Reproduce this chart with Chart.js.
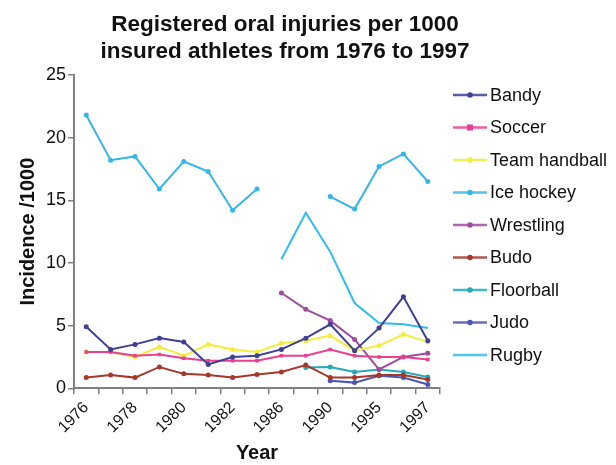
<!DOCTYPE html>
<html>
<head>
<meta charset="utf-8">
<script src="https://cdn.jsdelivr.net/npm/chart.js@4.4.0/dist/chart.umd.min.js"></script>
<style>
  html, body { margin: 0; padding: 0; background: #fff; }
  #wrap { width: 616px; height: 465px; position: relative; }
</style>
</head>
<body>
<div id="wrap"><canvas id="injuryChart"></canvas></div>
<script>
// categories (only every other one gets a label on the axis)
const years = ['1976', '1977', '1978', '1979', '1980', '1981', '1982', '1984',
               '1986', '1988', '1990', '1992', '1995', '1996', '1997'];
const yTicks = [0, 5, 10, 15, 20, 25];
const titleLines = ['Registered oral injuries per 1000', 'insured athletes from 1976 to 1997'];

const bandy        = [4.9, 3.1, 3.5, 4.0, 3.7, 1.9, 2.5, 2.6, 3.1, 4.0, 5.1, 3.0, 4.8, 7.3, 3.8];
const soccer       = [2.9, 2.9, 2.6, 2.7, 2.4, 2.2, 2.2, 2.2, 2.6, 2.6, 3.1, 2.6, 2.5, 2.5, 2.3];
const teamHandball = [2.9, 2.9, 2.5, 3.3, 2.6, 3.5, 3.1, 2.9, 3.6, 3.8, 4.2, 3.0, 3.4, 4.3, 3.7];
const iceHockey    = [21.8, 18.2, 18.5, 15.9, 18.1, 17.3, 14.2, 15.9, null, null, 15.3, 14.3, 17.7, 18.7, 16.5];
const wrestling    = [null, null, null, null, null, null, null, null, 7.6, 6.3, 5.4, 3.9, 1.5, 2.5, 2.8];
const budo         = [0.85, 1.05, 0.85, 1.7, 1.15, 1.05, 0.85, 1.1, 1.3, 1.85, 0.85, 0.85, 1.05, 1.05, 0.7];
const floorball    = [null, null, null, null, null, null, null, null, null, 1.65, 1.7, 1.3, 1.5, 1.3, 0.9];
const judo         = [null, null, null, null, null, null, null, null, null, null, 0.6, 0.45, 1.0, 0.85, 0.3];
const rugby        = [null, null, null, null, null, null, null, null, 10.3, 14.0, 10.9, 6.8, 5.2, 5.1, 4.8];

const FONT = 'Liberation Sans, Arial, sans-serif';

function series(label, data, color, style) {
  return {
    label: label,
    data: data,
    borderColor: color,
    backgroundColor: color,
    borderWidth: 2,
    pointRadius: style === 'none' ? 0 : 2.5,
    pointStyle: style === 'rect' ? 'rect' : 'circle',
    pointBorderWidth: 0,
    tension: 0,
    spanGaps: false
  };
}

// title + legend drawn by hand so they sit where the original has them
const sideLegend = {
  id: 'sideLegend',
  afterDraw(chart) {
    const c = chart.ctx;
    c.save();
    c.fillStyle = '#111';
    c.font = 'bold 22.5px ' + FONT;
    c.textAlign = 'center';
    c.textBaseline = 'middle';
    titleLines.forEach((t, i) => c.fillText(t, 285, 25 + i * 27));

    chart.data.datasets.forEach((ds, i) => {
      const y = 95 + i * 32.5;
      c.strokeStyle = ds.borderColor;
      c.lineWidth = 2.5;
      c.globalAlpha = 0.85;
      c.beginPath();
      c.moveTo(453, y);
      c.lineTo(487, y);
      c.stroke();
      c.globalAlpha = 1;
      c.fillStyle = ds.borderColor;
      if (ds.pointRadius > 0) {
        if (ds.pointStyle === 'rect') {
          c.fillRect(470 - 3, y - 3, 6, 6);
        } else {
          c.beginPath();
          c.arc(470, y, 2.8, 0, Math.PI * 2);
          c.fill();
        }
      }
      c.fillStyle = '#111';
      c.font = '18px ' + FONT;
      c.textBaseline = 'middle';
      c.textAlign = 'left';
      c.fillText(ds.label, 490, y + 1);
    });
    c.restore();
  }
};

const ctx = document.getElementById('injuryChart').getContext('2d');
new Chart(ctx, {
  type: 'line',
  data: {
    labels: years,
    datasets: [
      series('Bandy', bandy, '#3f3f96', 'circle'),
      series('Soccer', soccer, '#ea3f8c', 'rect'),
      series('Team handball', teamHandball, '#f6ec3c', 'circle'),
      series('Ice hockey', iceHockey, '#35b6ea', 'circle'),
      series('Wrestling', wrestling, '#a04c9e', 'circle'),
      series('Budo', budo, '#a6382a', 'circle'),
      series('Floorball', floorball, '#25a9b6', 'circle'),
      series('Judo', judo, '#4c55b0', 'circle'),
      series('Rugby', rugby, '#2fbdf0', 'none')
    ]
  },
  plugins: [sideLegend],
  options: {
    responsive: true,
    maintainAspectRatio: false,
    animation: false,
    layout: { padding: { top: 75, right: 176, left: 12, bottom: 0 } },
    plugins: {
      title: { display: false },
      legend: { display: false },
      tooltip: { enabled: false }
    },
    scales: {
      x: {
        offset: true,
        border: { color: '#808080', width: 2 },
        grid: { drawOnChartArea: false, drawTicks: true, tickLength: 6, offset: true, color: '#808080', lineWidth: 1.5 },
        ticks: {
          autoSkip: false,
          minRotation: 45,
          maxRotation: 45,
          padding: 4,
          color: '#111',
          font: { family: FONT, size: 16 },
          callback: function (v, i) { return i % 2 === 0 ? years[i] : ''; }
        },
        title: {
          display: true,
          text: 'Year',
          color: '#111',
          font: { family: FONT, size: 20, weight: 'bold' },
          padding: { top: 0, bottom: 0 }
        }
      },
      y: {
        min: 0,
        max: 25,
        afterBuildTicks: function (axis) { axis.ticks = yTicks.map(v => ({ value: v })); },
        border: { color: '#808080', width: 2 },
        grid: { drawOnChartArea: false, drawTicks: true, tickLength: 6, color: '#808080', lineWidth: 1.5 },
        ticks: {
          color: '#111',
          padding: 2,
          font: { family: FONT, size: 18 }
        },
        title: {
          display: true,
          text: 'Incidence /1000',
          color: '#111',
          font: { family: FONT, size: 20, weight: 'bold' },
          padding: { bottom: 4 }
        }
      }
    }
  }
});
</script>
</body>
</html>
